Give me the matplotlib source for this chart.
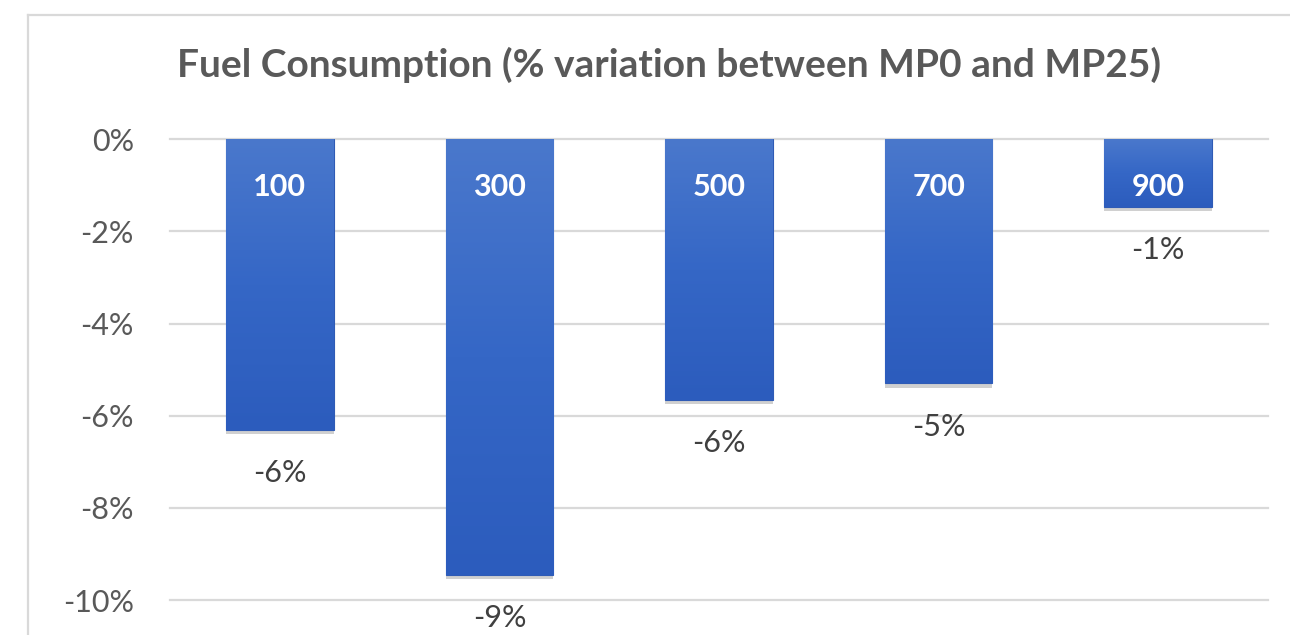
import matplotlib
matplotlib.use("Agg")
import matplotlib.pyplot as plt
import matplotlib.patheffects as pe
from matplotlib.lines import Line2D
from matplotlib.ticker import FuncFormatter, MultipleLocator
from matplotlib.colors import LinearSegmentedColormap
import numpy as np

# Data: % change in fuel consumption between MP0 and MP25 for each case
categories = ["100", "300", "500", "700", "900"]
variation = [-0.0631, -0.0946, -0.0565, -0.0530, -0.0147]

title = "Fuel Consumption (% variation between MP0 and MP25)"

plt.rcParams["font.family"] = ["Lato", "DejaVu Sans"]

fig = plt.figure(figsize=(12.9, 6.35), dpi=100)
fig.patch.set_facecolor("white")

# Chart-area frame (top and left edges; the rest runs past the canvas)
fx, fy = 28 / 1290, 1 - 15 / 635
fig.add_artist(Line2D([fx, 1.0], [fy, fy], transform=fig.transFigure,
                      color="#d9d9d9", lw=1.6))
fig.add_artist(Line2D([fx, fx], [0.0, fy], transform=fig.transFigure,
                      color="#d9d9d9", lw=1.6))

ax = fig.add_axes([170 / 1290, 1 - 600 / 635, (1268 - 170) / 1290, (600 - 139.3) / 635])
ax.set_facecolor("white")

x = np.arange(len(categories))
bar_w = 0.49

bars = ax.bar(x, variation, width=bar_w, color="#3a68c4", zorder=3,
              edgecolor="#2f5bb5", linewidth=0.8)
for b in bars:
    b.set_path_effects([pe.SimplePatchShadow(offset=(0, -3), shadow_rgbFace="#7a7a7a", alpha=0.35),
                        pe.Normal()])

# Vertical gradient fill, lighter at the zero line, deeper toward the bar end
cmap = LinearSegmentedColormap.from_list("barfill", ["#4a78cc", "#3567c6", "#2c5cbd"])
grad = np.linspace(0, 1, 256).reshape(-1, 1)
for b, v in zip(bars, variation):
    x0 = b.get_x()
    im = ax.imshow(grad, extent=(x0, x0 + b.get_width(), v, 0), origin="upper",
                   cmap=cmap, aspect="auto", zorder=3.5, interpolation="bicubic")
    im.set_clip_path(b)

ax.set_xlim(-0.5, len(categories) - 0.5)
ax.set_ylim(-0.10, 0.0)

ax.yaxis.set_major_locator(MultipleLocator(0.02))
ax.yaxis.set_major_formatter(FuncFormatter(lambda v, _: f"{int(round(v * 100))}%"))
ax.tick_params(axis="y", length=0, pad=26, labelsize=22, labelcolor="#595959")
ax.tick_params(axis="x", length=0, labelbottom=False)

ax.grid(axis="y", color="#d9d9d9", linewidth=1.6, zorder=0)
for ln in ax.get_ygridlines():
    ln.set_clip_on(False)
ax.grid(axis="x", visible=False)
for s in ax.spines.values():
    s.set_visible(False)

# Category names inside the top of each bar
for xi, name in zip(x, categories):
    ax.annotate(name, xy=(xi, 0), xytext=(0, -34), textcoords="offset points",
                ha="center", va="center", color="white", fontsize=22,
                fontweight="bold", zorder=5)

# Value labels beneath each bar
ax.bar_label(bars, labels=[f"{int(round(v * 100))}%" for v in variation],
             padding=21, fontsize=22, color="#404040", zorder=5)

fig.text(669 / 1290, 1 - 77 / 635, title, ha="center", va="baseline",
         fontsize=28, fontweight="bold", color="#595959")

fig.savefig("out.png", dpi=100, facecolor="white")
